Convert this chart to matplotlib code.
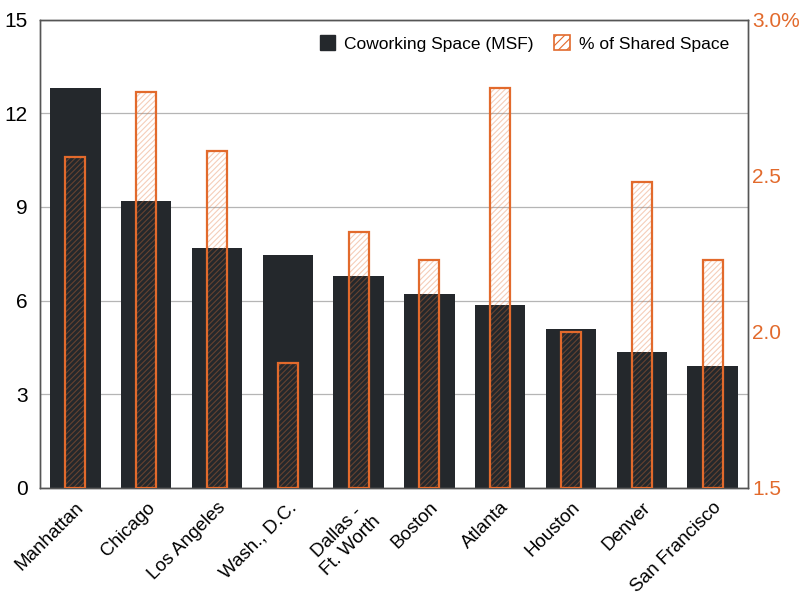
import matplotlib
matplotlib.use("Agg")
import matplotlib.pyplot as plt
import numpy as np
from matplotlib.patches import Patch

plt.rcParams['font.family'] = ['Liberation Sans Narrow', 'Liberation Sans', 'DejaVu Sans']
plt.rcParams['hatch.linewidth'] = 0.8

cities = ["Manhattan", "Chicago", "Los Angeles", "Wash., D.C.", "Dallas -\nFt. Worth",
          "Boston", "Atlanta", "Houston", "Denver", "San Francisco"]
coworking_msf = [12.8, 9.2, 7.7, 7.45, 6.8, 6.2, 5.85, 5.1, 4.35, 3.9]
shared_pct = [2.56, 2.77, 2.58, 1.90, 2.32, 2.23, 2.78, 2.00, 2.48, 2.23]

left_ticks = [0, 3, 6, 9, 12, 15]
right_ticks = [1.5, 2.0, 2.5, 3.0]
right_labels = ["1.5", "2.0", "2.5", "3.0%"]

dark = "#24282c"
orange = "#e26a2c"
hatch_col = (0.89, 0.45, 0.22, 0.35)

fig = plt.figure(figsize=(8, 6), dpi=100)
ax = fig.add_axes([0.05, 0.187, 0.885, 0.78])
ax2 = ax.twinx()

x = np.arange(len(cities))
ax.bar(x, coworking_msf, width=0.71, color=dark, zorder=2)
ax.set_ylim(0, 15)
ax.set_yticks(left_ticks)
ax.set_xlim(-0.5, len(cities) - 0.5)
ax.grid(axis="y", color="#b5b5b5", linewidth=0.9, zorder=0)
ax.set_axisbelow(True)
ax.tick_params(axis="y", length=0, labelsize=15, pad=9)
ax.tick_params(axis="x", length=0, labelsize=13.5, pad=8)
ax.set_xticks(x)
ax.set_xticklabels(cities, rotation=45, ha="right", rotation_mode="anchor",
                   multialignment="center")

# hatch layer then outline
ax2.bar(x, [v - 1.5 for v in shared_pct], bottom=1.5, width=0.28, fill=False,
        hatch="//////", edgecolor=hatch_col, linewidth=0, zorder=3)
ax2.bar(x, [v - 1.5 for v in shared_pct], bottom=1.5, width=0.28, fill=False,
        edgecolor=orange, linewidth=1.6, zorder=4)
ax2.set_ylim(1.5, 3.0)
ax2.set_yticks(right_ticks)
ax2.set_yticklabels(right_labels)
ax2.tick_params(axis="y", length=0, labelsize=15, colors=orange, pad=3)

for a in (ax, ax2):
    for s in a.spines.values():
        s.set_color("#555555")
        s.set_linewidth(1.0)

handles = [Patch(facecolor=dark, edgecolor=dark, label="Coworking Space (MSF)"),
           Patch(facecolor="white", edgecolor=orange, hatch="////", linewidth=1.2,
                 label="% of Shared Space")]
ax2.legend(handles=handles, loc="upper right", ncol=2, frameon=False, fontsize=12.5,
           handlelength=0.9, handleheight=0.9, columnspacing=1.2, handletextpad=0.5,
           bbox_to_anchor=(0.995, 1.0))

fig.savefig("out.png", dpi=100)
